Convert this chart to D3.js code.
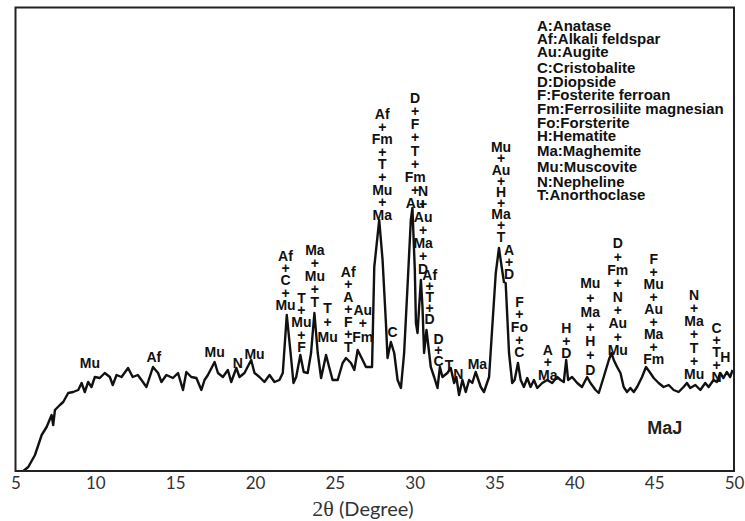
<!DOCTYPE html>
<html>
<head>
<meta charset="utf-8">
<script src="https://cdn.jsdelivr.net/npm/d3@7"></script>
<style>
  body { margin: 0; background: #fff; }
  svg { display: block; }
  .peak { font: bold 14px "Liberation Sans", Arial, sans-serif; fill: #111; }
  .legend text { font: bold 15px "Liberation Sans", Arial, sans-serif; fill: #111; }
  .tick text { font: 17px Lato, "Open Sans", sans-serif; fill: #333; }
</style>
</head>
<body>
<div id="chart"></div>
<script>
// XRD pattern, sample MaJ (intensity in arbitrary units)
const twoTheta = [5.49, 5.80, 6.22, 6.64, 6.95, 7.26, 7.36, 7.47, 7.78, 7.99, 8.30, 8.61, 8.93, 9.14, 9.34, 9.55, 9.76, 9.97,
  10.28, 10.59, 10.91, 11.09, 11.33, 11.64, 12.05, 12.34, 12.66, 12.89, 13.20, 13.61, 13.93, 14.14, 14.45, 14.86, 15.18, 15.49,
  15.70, 16.01, 16.33, 16.64, 16.84, 17.05, 17.47, 17.68, 17.99, 18.30, 18.51, 18.83, 19.03, 19.34, 19.76, 19.97, 20.28, 20.59,
  20.91, 21.22, 21.53, 21.74, 21.99, 22.26, 22.41, 22.58, 22.84, 23.05, 23.30, 23.51, 23.72, 23.93, 24.14, 24.45, 24.66, 24.86,
  25.18, 25.49, 25.70, 26.01, 26.22, 26.43, 26.74, 26.95, 27.33, 27.47, 27.78, 27.99, 28.20, 28.30, 28.51, 28.72, 28.93, 29.14,
  29.34, 29.55, 29.76, 29.86, 30.01, 30.08, 30.18, 30.28, 30.39, 30.49, 30.59, 30.74, 31.01, 31.22, 31.43, 31.58, 31.74, 32.05,
  32.26, 32.47, 32.61, 32.78, 32.99, 33.20, 33.41, 33.61, 33.82, 34.14, 34.34, 34.66, 34.86, 35.08, 35.28, 35.45, 35.59, 35.70,
  35.91, 36.11, 36.26, 36.47, 36.64, 36.84, 37.05, 37.26, 37.47, 37.68, 37.99, 38.30, 38.61, 38.93, 39.14, 39.34, 39.49, 39.61,
  39.86, 40.18, 40.48, 40.80, 41.01, 41.33, 41.53, 41.84, 42.16, 42.33, 42.47, 42.68, 42.89, 43.09, 43.30, 43.51, 43.72, 43.93,
  44.24, 44.49, 44.76, 44.97, 45.28, 45.59, 45.91, 46.22, 46.53, 46.84, 47.05, 47.26, 47.58, 47.89, 48.20, 48.41, 48.72, 48.93,
  49.14, 49.34, 49.55, 49.76, 49.91];
const intensity = [0, 4, 16, 36, 44, 56, 46, 61, 66, 69, 78, 79, 81, 88, 79, 89, 84, 94,
  93, 98, 94, 86, 96, 94, 103, 94, 96, 91, 84, 104, 98, 89, 96, 93, 98, 81,
  99, 94, 93, 81, 91, 96, 109, 98, 94, 101, 89, 103, 94, 98, 111, 98, 94, 89,
  96, 89, 91, 98, 156, 113, 88, 94, 116, 99, 98, 118, 158, 118, 93, 116, 103, 91,
  91, 108, 113, 108, 101, 121, 111, 104, 104, 204, 251, 211, 148, 113, 129, 118, 91, 83,
  118, 184, 251, 263, 201, 148, 138, 164, 191, 164, 118, 141, 104, 94, 83, 104, 94, 98,
  103, 88, 94, 76, 91, 79, 91, 88, 99, 84, 79, 94, 144, 198, 223, 204, 189, 188,
  118, 88, 91, 108, 91, 84, 93, 84, 91, 83, 88, 91, 88, 94, 91, 89, 111, 91,
  94, 88, 84, 94, 88, 81, 78, 94, 111, 118, 111, 104, 98, 84, 79, 83, 79, 84,
  94, 104, 98, 93, 88, 84, 86, 81, 79, 84, 88, 83, 86, 81, 88, 84, 91, 89,
  98, 93, 99, 94, 101];

const xTicks = [5, 10, 15, 20, 25, 30, 35, 40, 45, 50];

// peak annotations: phases stacked with "+", anchored at 2θ and intensity (top line, bottom line)
const peakTheta = [9.66, 13.66, 17.47, 18.93, 19.97, 21.91, 22.91, 23.75, 24.55, 25.84, 26.75, 27.97, 28.61,
  30.03, 30.53, 30.94, 31.49, 32.16, 32.74, 33.93, 35.41, 35.91, 36.56, 38.34, 39.5, 41.0, 42.72, 44.97,
  47.5, 48.91, 49.45];
const peakTop = [108, 114, 119, 108, 117, 215, 173, 221, 163, 199, 161, 357, 139,
  372.5, 280, 196, 131.7, 106, 97, 106.7, 323.7, 221, 169.3, 121, 142.7, 187.7, 227.7, 211.7,
  176, 142.7, 113.7];
const peakBottom = [108, 114, 119, 108, 117, 166, 124, 169, 134, 124, 134, 256, 139,
  268.3, 201.7, 151.7, 110.3, 106, 97, 106.7, 234.3, 197, 118.7, 96, 117.7, 101, 121, 111.7,
  97, 94.3, 113.7];
const peakPhases = ['Mu', 'Af', 'Mu', 'N', 'Mu', 'Af + C + Mu', 'T + Mu + F', 'Ma + Mu + T', 'T + Mu',
  'Af + A + F + T', 'Au + Fm', 'Af + Fm + T + Mu + Ma', 'C',
  'D + F + T + Fm + Au', 'N + Au + Ma + D', 'Af + T + D', 'D + C', 'T', 'N', 'Ma',
  'Mu + Au + H + Ma + T', 'A + D', 'F + Fo + C', 'A + Ma', 'H + D', 'Mu + Ma + H + D',
  'D + Fm + N + Au + Mu', 'F + Mu + Au + Ma + Fm', 'N + Ma + T + Mu', 'C + T + N', 'H'];

const legendItems = ['A:Anatase', 'Af:Alkali feldspar', 'Au:Augite', 'C:Cristobalite', 'D:Diopside',
  'F:Fosterite ferroan', 'Fm:Ferrosiliite magnesian', 'Fo:Forsterite', 'H:Hematite', 'Ma:Maghemite',
  'Mu:Muscovite', 'N:Nepheline', 'T:Anorthoclase'];
const legendY = [26, 39, 51.5, 68, 81.5, 95, 109, 123, 136, 150.5, 166.5, 181.5, 195];

const w = 745;
const h = 521;
const plotLeft = 15.5, plotRight = 734, plotTop = 7.5, plotBottom = 471;

const svg = d3.select('#chart')
  .append('svg')
  .attr('width', w)
  .attr('height', h);

const xScale = d3.scaleLinear().domain([5, 50]).range([plotLeft, plotRight]);
const yScale = d3.scaleLinear().domain([0, 463.5]).range([plotBottom, plotTop]);

const pattern = twoTheta.map((t, i) => [t, intensity[i]]);

svg.append('path')
  .datum(pattern)
  .attr('fill', 'none')
  .attr('stroke', '#111')
  .attr('stroke-width', 2.4)
  .attr('stroke-linejoin', 'round')
  .attr('d', d3.line().x(d => xScale(d[0])).y(d => yScale(d[1])));

// frame
svg.append('rect')
  .attr('x', plotLeft)
  .attr('y', plotTop)
  .attr('width', plotRight - plotLeft)
  .attr('height', plotBottom - plotTop)
  .attr('fill', 'none')
  .attr('stroke', '#222')
  .attr('stroke-width', 2);

const xAxis = d3.axisBottom(xScale)
  .tickValues(xTicks)
  .tickSize(0)
  .tickPadding(6);

svg.append('g')
  .attr('transform', 'translate(0, ' + plotBottom + ')')
  .call(xAxis)
  .call(g => g.select('.domain').remove());

const title = svg.append('text')
  .attr('x', 363)
  .attr('y', 516)
  .attr('text-anchor', 'middle')
  .attr('fill', '#333');
title.append('tspan')
  .style('font', '22px "Liberation Serif", "Times New Roman", serif')
  .text('2θ');
title.append('tspan')
  .style('font', '20px Lato, "Open Sans", sans-serif')
  .text(' (Degree)');

// peak labels
const peaks = svg.append('g');
peakPhases.forEach((p, i) => {
  const lines = p.split(' ');
  const y0 = yScale(peakTop[i]);
  const y1 = yScale(peakBottom[i]);
  const step = lines.length > 1 ? (y1 - y0) / (lines.length - 1) : 0;
  peaks.selectAll(null)
    .data(lines)
    .enter()
    .append('text')
    .attr('class', 'peak')
    .attr('x', xScale(peakTheta[i]))
    .attr('y', (d, j) => y0 + j * step)
    .attr('dy', '0.35em')
    .attr('text-anchor', 'middle')
    .text(d => d);
});

// legend
svg.append('g')
  .attr('class', 'legend')
  .selectAll('text')
  .data(legendItems)
  .enter()
  .append('text')
  .attr('x', 537)
  .attr('y', (d, i) => legendY[i])
  .attr('dy', '0.35em')
  .text(d => d);

svg.append('text')
  .attr('x', xScale(45.66))
  .attr('y', yScale(43))
  .attr('dy', '0.35em')
  .attr('text-anchor', 'middle')
  .style('font', 'bold 18px "Liberation Sans", Arial, sans-serif')
  .attr('fill', '#222')
  .text('MaJ');
</script>
</body>
</html>
